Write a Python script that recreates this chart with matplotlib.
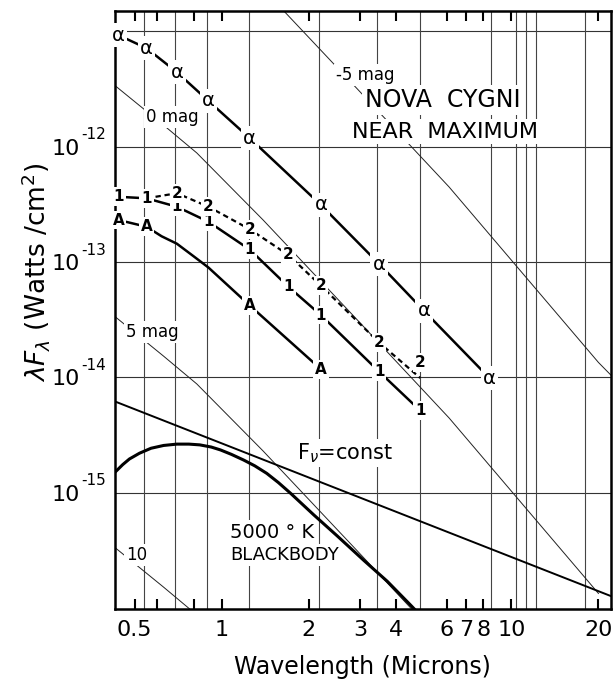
import matplotlib
matplotlib.use("Agg")
import matplotlib.pyplot as plt
from matplotlib.ticker import NullLocator, FixedLocator
import numpy as np

plt.rcParams['font.family'] = ['DejaVu Sans']

# ---------------- data ----------------
alpha_wl = [0.44, 0.55, 0.70, 0.90, 1.25, 2.2, 3.5, 5.0, 8.4]
alpha_flux = [9.2e-12, 7.1e-12, 4.4e-12, 2.48e-12, 1.18e-12, 3.12e-13, 9.6e-14, 3.77e-14, 9.9e-15]

one_wl = [0.44, 0.55, 0.70, 0.90, 1.25, 1.70, 2.2, 3.5, 4.85]
one_flux = [3.67e-13, 3.56e-13, 3.01e-13, 2.23e-13, 1.28e-13, 6.1e-14, 3.47e-14, 1.12e-14, 5.16e-15]

two_wl = [0.55, 0.70, 0.90, 1.25, 1.70, 2.2, 3.5, 4.85]
two_flux = [3.56e-13, 3.94e-13, 3.01e-13, 1.92e-13, 1.15e-13, 6.24e-14, 2.0e-14, 9.9e-15]
two_labeled = [False, True, True, True, True, True, True, True]

a_wl = [0.44, 0.55, 0.62, 0.70, 0.80, 0.90, 1.25, 2.2]
a_flux = [2.31e-13, 2.02e-13, 1.67e-13, 1.44e-13, 1.12e-13, 8.95e-14, 4.2e-14, 1.18e-14]
a_labeled = [True, True, False, False, False, False, True, True]

bb_wl = [0.43, 0.455, 0.48, 0.52, 0.57, 0.63, 0.70, 0.77, 0.84, 0.92, 0.99, 1.08, 1.19,
         1.30, 1.43, 1.57, 1.73, 2.08, 2.5, 3.1, 3.73, 4.49, 4.7]
bb_flux = [1.53e-15, 1.76e-15, 1.97e-15, 2.21e-15, 2.44e-15, 2.58e-15, 2.65e-15, 2.65e-15,
           2.61e-15, 2.50e-15, 2.36e-15, 2.16e-15, 1.93e-15, 1.72e-15, 1.48e-15, 1.23e-15,
           9.93e-16, 6.46e-16, 4.27e-16, 2.60e-16, 1.72e-16, 1.07e-16, 9.5e-17]

fnu_wl = [0.428, 22.1]
fnu_flux = [6.2e-15, 1.28e-16]

# zero-magnitude locus (other magnitudes are this scaled by 10^(-0.4 m))
mag0_wl = [0.42, 0.63, 0.82, 1.39, 2.94, 6.1, 19.3, 20.0, 22.5]
mag0_flux = [3.5e-12, 1.53e-12, 8.8e-13, 2.31e-13, 3.15e-14, 4.46e-15, 1.50e-16, 1.35e-16, 1.0e-16]
mags = [-5, 0, 5, 10]
mag_last_wl = [22.5, 20.0, 22.5, 22.5]

band_wl = [0.54, 0.69, 0.89, 1.24, 2.16, 3.45, 4.85, 8.5, 10.4, 11.2, 12.2, 18.0]
decades = [1e-11, 1e-12, 1e-13, 1e-14, 1e-15]

xtick_vals = [0.5, 0.6, 0.8, 1, 2, 3, 4, 6, 7, 8, 10, 20]
xtick_labels = ['0.5', '', '', '1', '2', '3', '4', '6', '7', '8', '10', '20']
ytick_vals = [1e-15, 1e-14, 1e-13, 1e-12]
ytick_exps = ['-15', '-14', '-13', '-12']

# ---------------- figure ----------------
W, H = 615, 683
PT = 0.72  # points per pixel at dpi 100
fig = plt.figure(figsize=(W / 100, H / 100), dpi=100)
ax = fig.add_axes([115 / W, (H - 609) / H, (611 - 115) / W, (609 - 11) / H])
ax.set_xscale('log')
ax.set_yscale('log')
ax.set_xlim(0.428, 22.1)
ax.set_ylim(9.9e-17, 1.49e-11)

# grid
for d in decades:
    ax.axhline(d, color='#333333', lw=0.8, zorder=1)
for b in band_wl:
    ax.axvline(b, color='#444444', lw=0.8, zorder=1)

# magnitude loci
for m, last in zip(mags, mag_last_wl):
    wl = np.array(mag0_wl)
    fl = np.array(mag0_flux) * 10 ** (-0.4 * m)
    keep = wl <= last
    ax.plot(wl[keep], fl[keep], color='#222222', lw=0.7, zorder=2)

# F_nu = const and blackbody
ax.plot(fnu_wl, fnu_flux, color='black', lw=1.4, zorder=3)
ax.plot(bb_wl, bb_flux, color='black', lw=2.2, zorder=3, solid_joinstyle='round')

# series
ax.plot(alpha_wl, alpha_flux, color='black', lw=1.8, zorder=3)
ax.plot(one_wl, one_flux, color='black', lw=1.8, zorder=3)
ax.plot(two_wl, two_flux, color='black', lw=1.6, ls=(0, (2.4, 1.7)), zorder=3)
ax.plot(a_wl, a_flux, color='black', lw=1.8, zorder=3, solid_joinstyle='round')

box = dict(boxstyle='square,pad=0.12', fc='white', ec='none')

def mark(x, y, s, size=11, weight='bold', dy=0):
    ax.annotate(s, (x, y), xytext=(0, dy), textcoords='offset points',
                ha='center', va='center', fontsize=size, fontweight=weight,
                bbox=box, zorder=6, annotation_clip=False)

for x, y in zip(alpha_wl, alpha_flux):
    mark(x, y, 'α', size=14, weight='normal')
for x, y in zip(one_wl, one_flux):
    mark(x, y, '1')
for i, (x, y, lab) in enumerate(zip(two_wl, two_flux, two_labeled)):
    if lab:
        mark(x, y, '2', dy=11 if i == len(two_wl) - 1 else 0)
for x, y, lab in zip(a_wl, a_flux, a_labeled):
    if lab:
        mark(x, y, 'A')

# text labels
def label(x, y, s, size, ha='center'):
    ax.text(x, y, s, ha=ha, va='center', fontsize=size, bbox=box, zorder=6)

label(3.14, 4.16e-12, '-5 mag', 12)
label(0.674, 1.80e-12, '0 mag', 12)
label(0.575, 2.48e-14, '5 mag', 12)
label(0.51, 2.9e-16, '10', 12)
label(5.8, 2.53e-12, 'NOVA  CYGNI', 17)
label(5.9, 1.34e-12, 'NEAR  MAXIMUM', 16)
label(2.67, 2.22e-15, r'F$_{\nu}$=const', 15)
label(1.07, 4.59e-16, '5000 ° K', 14, ha='left')
label(1.07, 2.9e-16, 'BLACKBODY', 13, ha='left')

# x ticks
ax.xaxis.set_major_locator(FixedLocator(xtick_vals))
ax.set_xticklabels(xtick_labels)
ax.xaxis.set_minor_locator(NullLocator())
ax.tick_params(axis='x', which='major', direction='in', length=7, width=1.5,
               top=True, labelsize=16, pad=8)

# y ticks: decade labels drawn as "10" with a raised exponent
ax.yaxis.set_major_locator(FixedLocator(ytick_vals))
ax.set_yticklabels([])
ax.yaxis.set_minor_locator(NullLocator())
ax.tick_params(axis='y', which='major', length=0)
for d, e in zip(ytick_vals, ytick_exps):
    ax.annotate('10', xy=(0, d), xycoords=('axes fraction', 'data'),
                xytext=(-35 * PT, -2 * PT), textcoords='offset points',
                ha='right', va='center', fontsize=16, annotation_clip=False)
    ax.annotate(e, xy=(0, d), xycoords=('axes fraction', 'data'),
                xytext=(-34 * PT, 12 * PT), textcoords='offset points',
                ha='left', va='center', fontsize=11, annotation_clip=False)

for sp in ax.spines.values():
    sp.set_linewidth(1.8)
    sp.set_zorder(4)

fig.text(36 / W, 1 - 272 / H, r'$\lambda F_{\lambda}$ (Watts /cm$^{2}$)', rotation=90,
         ha='center', va='center', fontsize=19)
fig.text(362 / W, 1 - 667 / H, 'Wavelength (Microns)', ha='center', va='center', fontsize=17)

fig.savefig('out.png', dpi=100)
